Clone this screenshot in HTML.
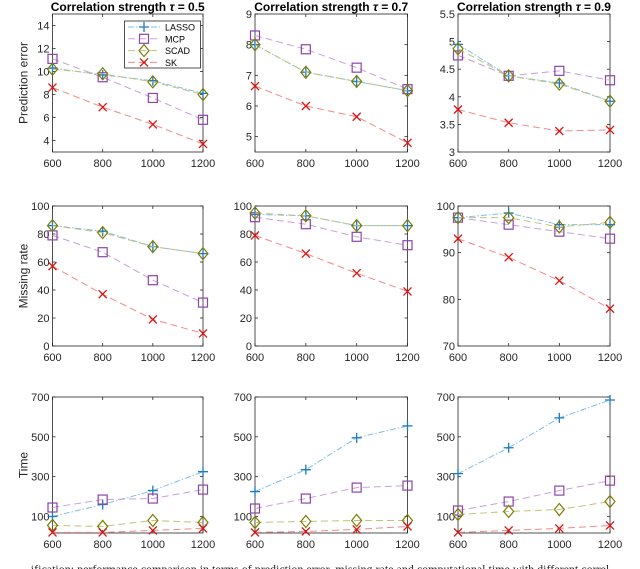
<!DOCTYPE html>
<html><head><meta charset="utf-8">
<style>
html,body{margin:0;padding:0;background:#fff;width:640px;height:569px;overflow:hidden}
svg{display:block;font-family:"Liberation Sans",sans-serif}
</style></head>
<body>
<svg id="fig" width="640" height="569" viewBox="0 0 640 569">
<text x="320" y="573" text-anchor="middle" font-size="12" fill="#222" font-family="Liberation Serif, serif">ification: performance comparison in terms of prediction error, missing rate and computational time with different correl</text>
</svg>
<script>
const xCats = [600, 800, 1000, 1200];
const methods = ["LASSO", "MCP", "SCAD", "SK"];
const taus = ["0.5", "0.7", "0.9"];
// Prediction error
const peLasso = [[10.3,9.7,9.2,8.1],[8.0,7.1,6.8,6.5],[4.95,4.38,4.25,3.92]];
const peMcp   = [[11.1,9.5,7.7,5.8],[8.3,7.85,7.25,6.55],[4.75,4.38,4.47,4.3]];
const peScad  = [[10.2,9.8,9.1,8.0],[8.0,7.1,6.8,6.5],[4.87,4.38,4.23,3.92]];
const peSk    = [[8.6,6.9,5.4,3.7],[6.65,6.0,5.65,4.8],[3.77,3.53,3.38,3.4]];
// Missing rate
const mrLasso = [[86,82,71,66],[94,93,86,86],[97.5,98.5,96,96]];
const mrMcp   = [[79,67,47,31],[92,87,78,72],[97.5,96,94.5,93]];
const mrScad  = [[86,81,71,66],[95,93,86,86],[97.5,97.5,95.5,96.5]];
const mrSk    = [[57,37,19,9],[79,66,52,39],[93,89,84,78]];
// Time
const tLasso = [[100,160,230,325],[225,335,495,555],[315,445,595,685]];
const tMcp   = [[145,185,190,235],[140,190,245,255],[130,175,230,280]];
const tScad  = [[55,50,80,70],[70,75,80,80],[110,125,135,175]];
const tSk    = [[20,20,30,40],[20,25,35,50],[20,30,40,55]];
// Axis ranges & ticks
const peRanges = [[3,15],[4.5,9],[3,5.5]];
const peTicks = [[4,6,8,10,12,14],[5,6,7,8,9],[3,3.5,4,4.5,5,5.5]];
const mrRanges = [[0,100],[0,100],[70,100]];
const mrTicks = [[0,20,40,60,80,100],[0,20,40,60,80,100],[70,80,90,100]];
const tRanges = [[17,700],[17,700],[17,700]];
const tTicks = [[100,300,500,700],[100,300,500,700],[100,300,500,700]];

const NS = "http://www.w3.org/2000/svg";
const svg = document.getElementById("fig");
const colX = [[52.5,203],[255,407.5],[458,610]];
const rowY = [[14,152],[206,346],[397,533]];
const styles = {
  LASSO:{line:"#7fbfe6",mark:"#1a7ac4",dash:"6,2,1.5,2",m:"plus"},
  MCP:{line:"#c9a0d6",mark:"#8e44a8",dash:"7,4",m:"square"},
  SCAD:{line:"#c2c27a",mark:"#7d7d00",dash:"7,4",m:"diamond"},
  SK:{line:"#f08a8a",mark:"#dd1111",dash:"7,4",m:"cross"}
};
function el(tag, attrs, parent){const e=document.createElementNS(NS,tag);for(const k in attrs)e.setAttribute(k,attrs[k]);(parent||svg).appendChild(e);return e;}
function fmt(v){return String(v);}

function drawPanel(r,c,range,ticks,series,ylabel,title,name){
  const [x0,x1]=colX[c],[y0,y1]=rowY[r];
  const g=el("g",{});
  
  
  const sx=v=>x0+(v-600)/600*(x1-x0);
  const sy=v=>y1-(v-range[0])/(range[1]-range[0])*(y1-y0);
  const box=el("rect",{x:x0,y:y0,width:x1-x0,height:y1-y0,fill:"#fff",stroke:"#262626","stroke-width":0.8},g);
  
  
  xCats.forEach(v=>{
    const x=sx(v);
    el("line",{x1:x,x2:x,y1:y1,y2:y1-3,stroke:"#262626","stroke-width":0.8},g);
    el("line",{x1:x,x2:x,y1:y0,y2:y0+3,stroke:"#262626","stroke-width":0.8},g);
    const t=el("text",{x:x,y:y1+15,"text-anchor":"middle","font-size":11,fill:"#262626"},g);
    t.textContent=v;
    
    
  });
  ticks.forEach(v=>{
    const y=sy(v);
    el("line",{x1:x0,x2:x0+3,y1:y,y2:y,stroke:"#262626","stroke-width":0.8},g);
    el("line",{x1:x1,x2:x1-3,y1:y,y2:y,stroke:"#262626","stroke-width":0.8},g);
    const t=el("text",{x:x0-3,y:y+4,"text-anchor":"end","font-size":11,fill:"#262626"},g);
    t.textContent=fmt(v);
    
    
  });
  if(ylabel){
    const yl=el("text",{x:0,y:0,transform:`translate(${x0-25},${(y0+y1)/2}) rotate(-90)`,"text-anchor":"middle","font-size":12,fill:"#262626"},g);
    yl.textContent=ylabel;
    
    
  }
  if(title){
    const tt=el("text",{x:(x0+x1)/2,y:y0-3,"text-anchor":"middle","font-size":12,"font-weight":"bold",fill:"#000"},g);
    tt.innerHTML='Correlation strength <tspan font-style="italic">τ</tspan> = '+title;
    
    
  }
  methods.forEach((m,i)=>{
    const st=styles[m],vals=series[i];
    const pts=vals.map((v,j)=>[sx(xCats[j]),sy(v)]);
    const pl=el("polyline",{points:pts.map(p=>p.join(",")).join(" "),fill:"none",stroke:st.line,"stroke-width":1,"stroke-dasharray":st.dash},g);
    
    
    pts.forEach(p=>{
      const mk=marker(st.m,p[0],p[1],st.mark,g);
      
      
    });
  });
}
function marker(type,x,y,col,g){
  const s=5;
  if(type==="plus") return el("path",{d:`M${x-s} ${y}H${x+s}M${x} ${y-s}V${y+s}`,stroke:col,"stroke-width":1.3,fill:"none"},g);
  if(type==="square") return el("rect",{x:x-4.5,y:y-4.5,width:9,height:9,stroke:col,"stroke-width":1.2,fill:"none"},g);
  if(type==="diamond") return el("path",{d:`M${x} ${y-6}L${x+5} ${y}L${x} ${y+6}L${x-5} ${y}Z`,stroke:col,"stroke-width":1.2,fill:"none"},g);
  return el("path",{d:`M${x-4} ${y-4}L${x+4} ${y+4}M${x+4} ${y-4}L${x-4} ${y+4}`,stroke:col,"stroke-width":1.3,fill:"none"},g);
}
for(let c=0;c<3;c++){
  drawPanel(0,c,peRanges[c],peTicks[c],[peLasso[c],peMcp[c],peScad[c],peSk[c]],c===0?"Prediction error":null,taus[c],"prediction-error-panel-"+(c+1));
  drawPanel(1,c,mrRanges[c],mrTicks[c],[mrLasso[c],mrMcp[c],mrScad[c],mrSk[c]],c===0?"Missing rate":null,null,"missing-rate-panel-"+(c+1));
  drawPanel(2,c,tRanges[c],tTicks[c],[tLasso[c],tMcp[c],tScad[c],tSk[c]],c===0?"Time":null,null,"time-panel-"+(c+1));
}
// legend
const lg=el("g",{});


el("rect",{x:124.5,y:21,width:76,height:47,fill:"#fff",stroke:"#262626","stroke-width":0.8},lg);
methods.forEach((m,i)=>{
  const st=styles[m],y=27+i*11.8;
  const en=el("g",{},lg);
  
  
  el("line",{x1:128,x2:160,y1:y,y2:y,stroke:st.line,"stroke-width":1,"stroke-dasharray":st.dash},en);
  marker(st.m,144,y,st.mark,en);
  const t=el("text",{x:165,y:y+3.5,"font-size":9,fill:"#000"},en);
  t.textContent=m;
});
</script>
</body></html>
